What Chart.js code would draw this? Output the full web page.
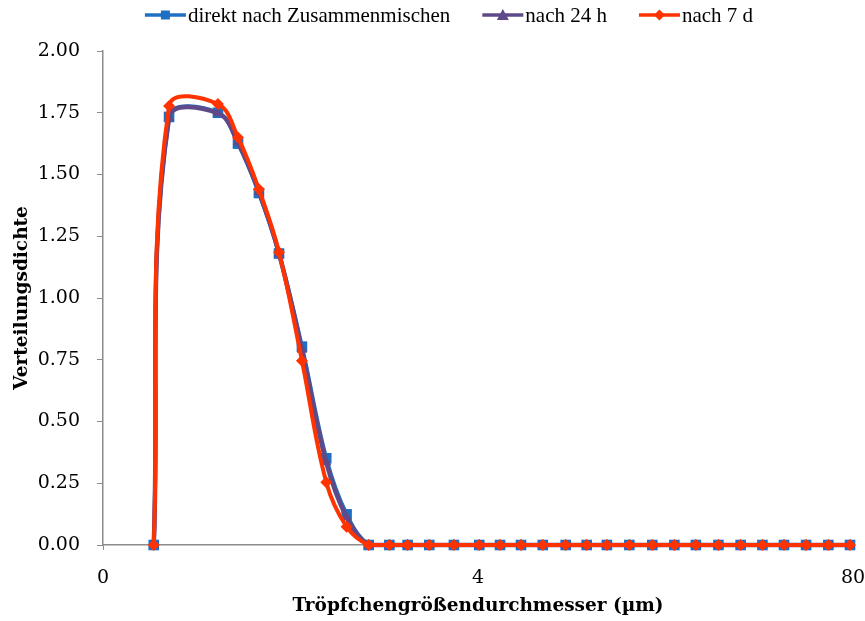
<!DOCTYPE html>
<html>
<head>
<meta charset="utf-8">
<script src="https://cdn.jsdelivr.net/npm/chart.js@4.4.1/dist/chart.umd.min.js"></script>
<style>
  html, body { margin: 0; padding: 0; background: #fff; }
  #wrap { width: 865px; height: 621px; }
</style>
</head>
<body>
<div id="wrap"><canvas id="dropChart" width="865" height="621"></canvas></div>
<script>
// droplet diameters (µm)
const diameters = [0.3, 0.339, 0.501, 0.588, 0.695, 0.816, 0.98, 1.19, 1.40, 1.67,
    1.97, 2.28, 2.71, 3.30, 4.04, 4.77, 5.64, 6.71, 8.06, 9.53, 11.2, 13.4, 16.1,
    19.2, 22.8, 27.3, 32.6, 38.8, 46.1, 55.0, 65.7, 78.1];

const direktValues = [0, 1.733, 1.75, 1.625, 1.425, 1.18, 0.803, 0.351, 0.124, 0,
    0, 0, 0, 0, 0, 0, 0, 0, 0, 0, 0, 0, 0, 0, 0, 0, 0, 0, 0, 0, 0, 0];
const nach24hValues = [0, 1.73, 1.748, 1.63, 1.43, 1.18, 0.79, 0.335, 0.112, 0,
    0, 0, 0, 0, 0, 0, 0, 0, 0, 0, 0, 0, 0, 0, 0, 0, 0, 0, 0, 0, 0, 0];
const nach7dValues = [0, 1.777, 1.785, 1.65, 1.44, 1.185, 0.746, 0.254, 0.074, 0,
    0, 0, 0, 0, 0, 0, 0, 0, 0, 0, 0, 0, 0, 0, 0, 0, 0, 0, 0, 0, 0, 0];

const seriesNames = ['direkt nach Zusammenmischen', 'nach 24 h', 'nach 7 d'];
const xTickValues = [0.2, 4, 80];
const xTickLabels = ['0', '4', '80'];
const yTickLabels = ['0.00', '0.25', '0.50', '0.75', '1.00', '1.25', '1.50', '1.75', '2.00'];

const toPoints = vals => vals.map((v, i) => ({ x: diameters[i], y: v }));

const colors = ['#1f6fc4', '#5e4a88', '#ff3300'];
const axisGray = '#8c8c8c';

// legend like the Excel one: short line with the marker in the middle
function drawMarker(ctx, style, cx, cy, color) {
    ctx.fillStyle = color;
    ctx.beginPath();
    if (style === 'rect') {
        ctx.rect(cx - 4.5, cy - 4.5, 9, 9);
    } else if (style === 'triangle') {
        ctx.moveTo(cx, cy - 6); ctx.lineTo(cx + 6, cy + 5); ctx.lineTo(cx - 6, cy + 5);
    } else {
        ctx.moveTo(cx, cy - 5.5); ctx.lineTo(cx + 5.5, cy); ctx.lineTo(cx, cy + 5.5); ctx.lineTo(cx - 5.5, cy);
    }
    ctx.closePath();
    ctx.fill();
}

const lineLegend = {
    id: 'lineLegend',
    afterDraw(chart) {
        const ctx = chart.ctx;
        const iconW = 41, textGap = 2, itemGap = 32, midX = 449, midY = 15;
        ctx.save();
        ctx.font = '21px "Liberation Serif"';
        ctx.textBaseline = 'middle';
        const items = chart.data.datasets.map(ds => ({ ds, w: ctx.measureText(ds.label).width }));
        const total = items.reduce((s, it) => s + iconW + textGap + it.w, 0) + itemGap * (items.length - 1);
        let x = midX - total / 2;
        items.forEach(it => {
            ctx.strokeStyle = it.ds.borderColor;
            ctx.lineWidth = 3.5;
            ctx.beginPath();
            ctx.moveTo(x, midY);
            ctx.lineTo(x + iconW, midY);
            ctx.stroke();
            drawMarker(ctx, it.ds.pointStyle, x + iconW / 2, midY, it.ds.borderColor);
            ctx.fillStyle = '#000';
            ctx.fillText(it.ds.label, x + iconW + textGap, midY + 1);
            x += iconW + textGap + it.w + itemGap;
        });
        ctx.restore();
    }
};

const dropData = {
    datasets: [{
        label: seriesNames[0],
        data: toPoints(direktValues),
        borderColor: colors[0],
        backgroundColor: colors[0],
        borderWidth: 4,
        pointStyle: 'rect',
        pointRadius: 7.5,
        pointBorderWidth: 0,
        tension: 0.38,
        clip: false,
        order: 3
    }, {
        label: seriesNames[1],
        data: toPoints(nach24hValues),
        borderColor: colors[1],
        backgroundColor: colors[1],
        borderWidth: 4.5,
        pointStyle: 'triangle',
        pointRadius: 6,
        pointBorderWidth: 0,
        tension: 0.38,
        clip: false,
        order: 2
    }, {
        label: seriesNames[2],
        data: toPoints(nach7dValues),
        borderColor: colors[2],
        backgroundColor: colors[2],
        borderWidth: 4,
        pointStyle: 'rectRot',
        pointRadius: 6,
        pointBorderWidth: 0,
        tension: 0.38,
        clip: false,
        order: 1
    }]
};

const dropConfig = {
    type: 'line',
    data: dropData,
    options: {
        responsive: false,
        animation: false,
        layout: { padding: { top: 51, right: 12, left: 0, bottom: 0 } },
        plugins: {
            tooltip: { enabled: false },
            legend: { display: false }
        },
        scales: {
            x: {
                type: 'logarithmic',
                min: 0.2,
                max: 80,
                afterBuildTicks: scale => {
                    scale.ticks = xTickValues.map(v => ({ value: v }));
                },
                afterFit: scale => {
                    scale.height = 76;
                    scale.paddingLeft = 0;
                    scale.paddingRight = 0;
                },
                ticks: {
                    autoSkip: false,
                    maxRotation: 0,
                    padding: 17,
                    color: '#000',
                    font: { family: 'DejaVu Serif', size: 19 },
                    callback: (value, index) => xTickLabels[index]
                },
                grid: { drawOnChartArea: false, tickLength: 5, color: axisGray },
                border: { color: axisGray, width: 1.5 },
                title: {
                    display: true,
                    text: 'Tröpfchengrößendurchmesser (µm)',
                    color: '#000',
                    font: { family: 'DejaVu Serif', size: 18.5, weight: 'bold' },
                    padding: { top: 0, bottom: 4 }
                }
            },
            y: {
                min: 0,
                max: 2,
                afterFit: scale => { scale.width = 103; },
                ticks: {
                    stepSize: 0.25,
                    padding: 17,
                    color: '#000',
                    font: { family: 'DejaVu Serif', size: 19 },
                    callback: (value, index) => yTickLabels[index]
                },
                grid: { drawOnChartArea: false, tickLength: 6, color: axisGray },
                border: { color: axisGray, width: 1.5 },
                title: {
                    display: true,
                    text: 'Verteilungsdichte',
                    color: '#000',
                    font: { family: 'DejaVu Serif', size: 18.5, weight: 'bold' },
                    padding: { top: 11, bottom: 0 }
                }
            }
        }
    },
    plugins: [lineLegend]
};

const dropChart = new Chart(document.getElementById('dropChart'), dropConfig);
</script>
</body>
</html>
